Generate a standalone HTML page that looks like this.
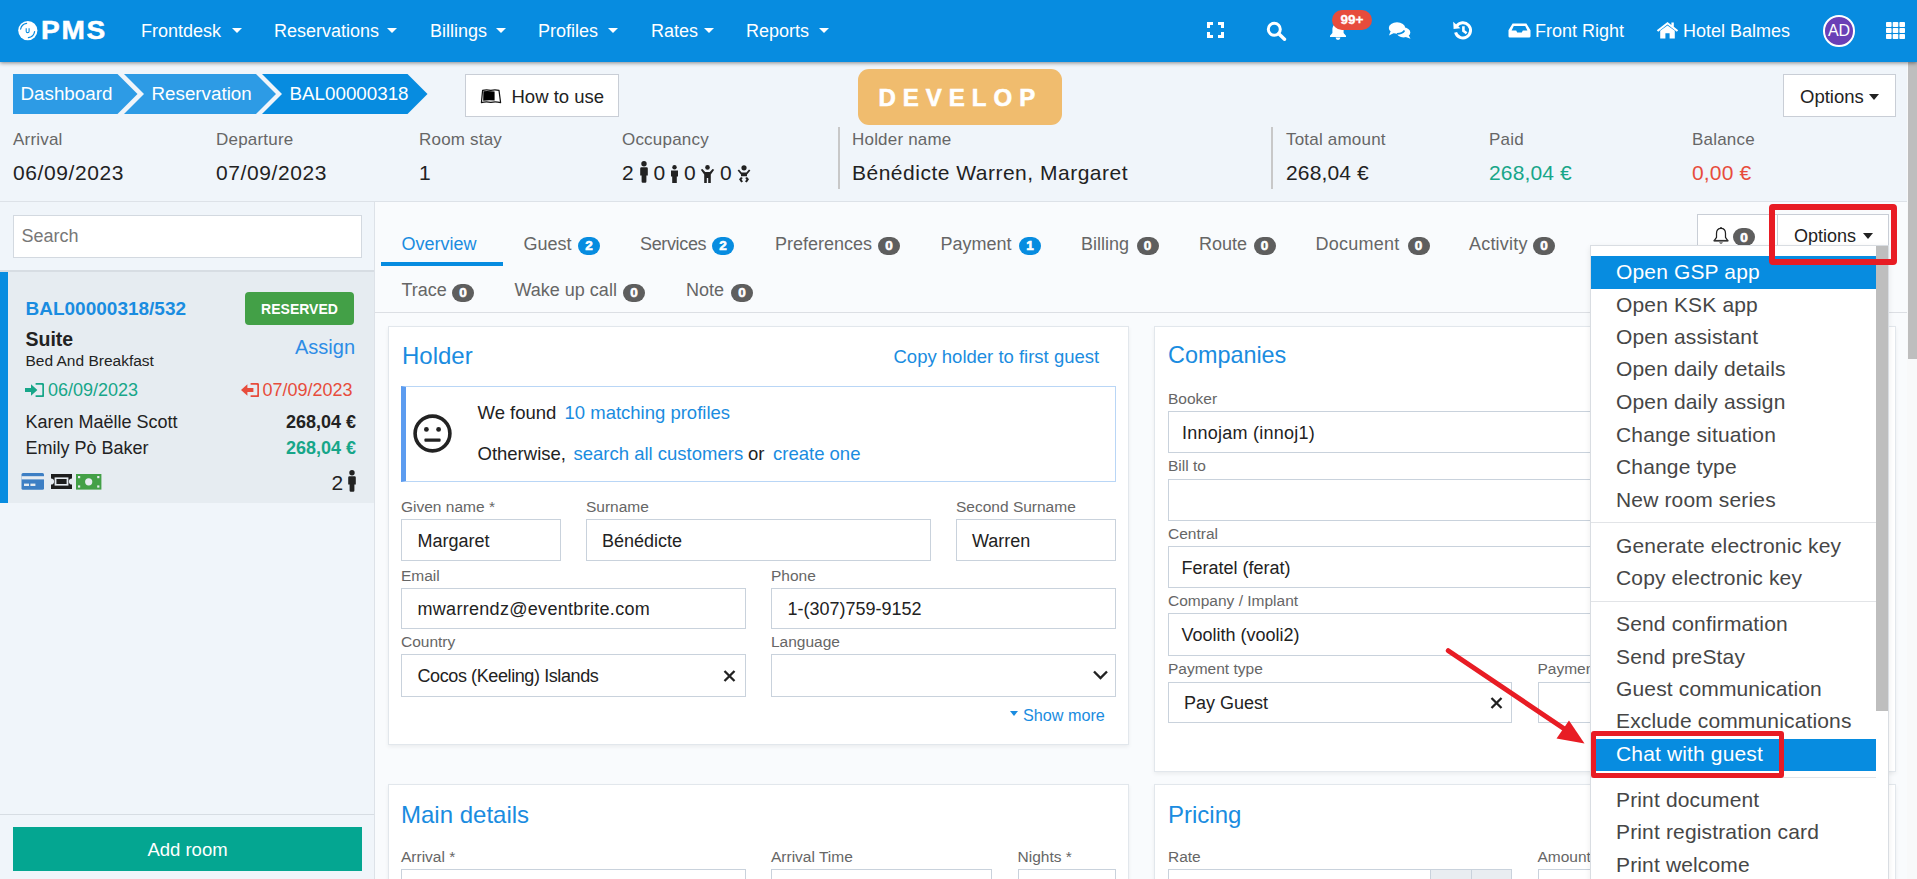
<!DOCTYPE html>
<html><head><meta charset="utf-8">
<style>
*{box-sizing:border-box;margin:0;padding:0}
html,body{width:1917px;height:879px;overflow:hidden}
body{font-family:"Liberation Sans",sans-serif;background:#f0f5fa;color:#222;position:relative}
.a{position:absolute}
.t{position:absolute;line-height:1;white-space:nowrap}
#nav{position:absolute;left:0;top:0;width:1917px;height:62px;background:#078ce0;box-shadow:0 1px 4px rgba(0,0,0,.45);z-index:5}
#nav .t{color:#fff}
.caret{position:absolute;width:0;height:0;border-left:5px solid transparent;border-right:5px solid transparent;border-top:5px solid #fff}
.bdg{position:absolute;height:18px;width:22px;border-radius:9px;background:#5e5e5e;color:#fff;font-size:13.5px;font-weight:bold;-webkit-text-stroke:0.6px #fff;text-align:center;line-height:18px}
.bdg.b{background:#078ce0}
</style></head><body>
<div id="nav">
<svg class="a" style="left:17px;top:20px" width="22" height="22" viewBox="0 0 22 22"><circle cx="10.8" cy="10.6" r="9.6" fill="#fff"/><path d="M3.6 9.2 A7.3 7.3 0 0 1 9.6 3.4" stroke="#078ce0" stroke-width="1.2" fill="none" stroke-linecap="round"/><path d="M17.6 11.6 A7.3 7.3 0 0 1 11.4 17.6" stroke="#078ce0" stroke-width="1.2" fill="none" stroke-linecap="round"/><path d="M9.2 8.2 v3 a1.45 1.45 0 0 0 2.9 0 v-3" stroke="#078ce0" stroke-width="1.1" fill="none"/></svg>
<div class="t" style="left:41px;top:17.2px;font-size:26.5px;font-weight:bold;letter-spacing:1.6px;transform:scaleX(1.06);transform-origin:0 0;-webkit-text-stroke:0.5px #fff">PMS</div>
<div class="t" style="left:141px;top:21.7px;font-size:18px;">Frontdesk</div>
<div class="caret" style="left:232px;top:28px"></div>
<div class="t" style="left:274px;top:21.7px;font-size:18px;">Reservations</div>
<div class="caret" style="left:387px;top:28px"></div>
<div class="t" style="left:430px;top:21.7px;font-size:18px;">Billings</div>
<div class="caret" style="left:496px;top:28px"></div>
<div class="t" style="left:538px;top:21.7px;font-size:18px;">Profiles</div>
<div class="caret" style="left:608px;top:28px"></div>
<div class="t" style="left:651px;top:21.7px;font-size:18px;">Rates</div>
<div class="caret" style="left:704px;top:28px"></div>
<div class="t" style="left:746px;top:21.7px;font-size:18px;">Reports</div>
<div class="caret" style="left:819px;top:28px"></div>

<svg class="a" style="left:1206px;top:21px" width="19" height="18" viewBox="0 0 19 18"><path d="M2.5 7V2.5H7M12 2.5H16.5V7M16.5 11V15.5H12M7 15.5H2.5V11" stroke="#fff" stroke-width="3" fill="none"/></svg>
<svg class="a" style="left:1266px;top:21px" width="21" height="20" viewBox="0 0 21 20"><circle cx="8.3" cy="8.3" r="6" stroke="#fff" stroke-width="3" fill="none"/><path d="M12.8 12.8L18.5 18.3" stroke="#fff" stroke-width="3.4" stroke-linecap="round"/></svg>
<svg class="a" style="left:1328px;top:21.5px" width="20" height="18" viewBox="0 0 20 18"><path d="M10 1.5c-3.5 0-5.6 2.6-5.6 6v3.4L2 13.8V15h16v-1.2l-2.4-2.9V7.5c0-3.4-2.1-6-5.6-6z" fill="#fff"/><path d="M7.6 15.6a2.4 2.4 0 0 0 4.8 0z" fill="#fff"/></svg>
<div class="a" style="left:1332px;top:10px;width:40px;height:20px;border-radius:10px;background:#e74c3c"></div>
<div class="t" style="left:1332px;top:13px;width:40px;text-align:center;font-size:13.5px;font-weight:bold;color:#fff;-webkit-text-stroke:0.3px #fff">99+</div>
<svg class="a" style="left:1388px;top:21px" width="24" height="19" viewBox="0 0 24 19"><ellipse cx="9" cy="7" rx="8.2" ry="5.8" fill="#fff"/><path d="M2.5 10.5 L1 14.5 L6.5 11.8z" fill="#fff"/><ellipse cx="15.5" cy="11.5" rx="6.8" ry="5" fill="#fff"/><path d="M20.5 14 L22.5 17.8 L17 15.8z" fill="#fff"/><path d="M9 12.9 a8.2 5.8 0 0 0 7.5 -3.4" stroke="#078ce0" stroke-width="1.6" fill="none"/></svg>
<svg class="a" style="left:1452px;top:20px" width="22" height="21" viewBox="0 0 22 21"><path d="M4.6 6.2A7.6 7.6 0 1 1 3.6 12.4" stroke="#fff" stroke-width="3" fill="none"/><path d="M1.2 1.8L1.6 9L8.4 8.2z" fill="#fff"/><path d="M11.4 6.2V10.8L14.6 13.2" stroke="#fff" stroke-width="2.6" fill="none"/></svg>
<svg class="a" style="left:1508px;top:23px" width="23" height="15" viewBox="0 0 23 15"><path d="M4.6 0.5H18.4L22.5 7.2V13.2a1.4 1.4 0 0 1-1.4 1.4H1.9A1.4 1.4 0 0 1 0.5 13.2V7.2z" fill="#fff"/><path d="M3.6 7.4L5.8 3H17.2L19.4 7.4H14.8L13.8 9.4H9.2L8.2 7.4z" fill="#078ce0"/></svg>
<div class="t" style="left:1535px;top:21.5px;font-size:18px">Front Right</div>
<svg class="a" style="left:1656px;top:21px" width="23" height="18" viewBox="0 0 23 18"><path d="M11.5 1L0.8 9.2L2.2 10.8L11.5 3.6L20.8 10.8L22.2 9.2L17.8 5.8V1.6H15.4V4L11.5 1z" fill="#fff"/><path d="M4.2 9.8L11.5 4.4L18.8 9.8V17.4H13.6V12.2H9.4V17.4H4.2z" fill="#fff"/></svg>
<div class="t" style="left:1683px;top:21.5px;font-size:18px">Hotel Balmes</div>
<div class="a" style="left:1823px;top:15px;width:32px;height:31.5px;border-radius:50%;background:#6a3fb6;border:2px solid #fff"></div>
<div class="t" style="left:1823px;top:22.6px;width:32px;text-align:center;font-size:16px;color:#fff">AD</div>
<svg class="a" style="left:1886px;top:22px" width="19" height="17" viewBox="0 0 19 17"><g fill="#fff"><rect x="0" y="0" width="5.6" height="5" rx="0.8"/><rect x="6.7" y="0" width="5.6" height="5" rx="0.8"/><rect x="13.4" y="0" width="5.6" height="5" rx="0.8"/><rect x="0" y="6" width="5.6" height="5" rx="0.8"/><rect x="6.7" y="6" width="5.6" height="5" rx="0.8"/><rect x="13.4" y="6" width="5.6" height="5" rx="0.8"/><rect x="0" y="12" width="5.6" height="5" rx="0.8"/><rect x="6.7" y="12" width="5.6" height="5" rx="0.8"/><rect x="13.4" y="12" width="5.6" height="5" rx="0.8"/></g></svg>
</div>
<svg class="a" style="left:0;top:0" width="440" height="130"><polygon points="13,74 117.5,74 137.5,94 117.5,114 13,114" fill="#2d9be5"/><polygon points="124,74 256,74 276,94 256,114 124,114 144,94" fill="#2d9be5"/><polygon points="262,74 407.5,74 427.5,94 407.5,114 262,114 282,94" fill="#078ce0"/></svg>
<div class="t" style="left:20.5px;top:84.9px;font-size:18.8px;color:#fff">Dashboard</div>
<div class="t" style="left:151.5px;top:84.9px;font-size:18.8px;color:#fff">Reservation</div>
<div class="t" style="left:289.5px;top:84.9px;font-size:18.8px;color:#fff">BAL00000318</div>
<div class="a" style="left:465px;top:74px;width:154px;height:43px;background:#fff;border:1px solid #c9ced6"></div>
<svg class="a" style="left:480px;top:89px" width="22" height="15" viewBox="0 0 22 15"><path d="M1.4 13.6L2.6 1.4Q6.5 0.4 10.8 1.4Q15 0.4 19 1.4L20.6 13.6Q15.5 12.4 10.8 13.4Q6 12.4 1.4 13.6z" stroke="#111" stroke-width="1.2" fill="none" stroke-linejoin="round"/><path d="M3.4 2.2Q7 1.6 14.6 2.4V11.6Q8 11 3.2 11.8z" fill="#000"/></svg>
<div class="t" style="left:511.5px;top:87.8px;font-size:18.5px;color:#222">How to use</div>
<div class="a" style="left:858px;top:69px;width:204px;height:56px;border-radius:11px;background:#f0bc6e"></div>
<div class="t" style="left:878.5px;top:86.1px;font-size:24px;color:#fff;font-weight:bold;letter-spacing:7px;-webkit-text-stroke:0.6px #fff">DEVELOP</div>
<div class="a" style="left:1783px;top:74px;width:113px;height:43px;background:#fff;border:1px solid #c9ced6"></div>
<div class="t" style="left:1800px;top:87.8px;font-size:18.5px;color:#222">Options</div>
<div class="a" style="left:1869px;top:94px;width:0;height:0;border-left:5.25px solid transparent;border-right:5.25px solid transparent;border-top:6px solid #222"></div>
<div class="t" style="left:13px;top:130.8px;font-size:17px;color:#666;letter-spacing:0.2px">Arrival</div>
<div class="t" style="left:13px;top:161.8px;font-size:21px;color:#222;letter-spacing:0.6px">06/09/2023</div>
<div class="t" style="left:216px;top:130.8px;font-size:17px;color:#666;letter-spacing:0.2px">Departure</div>
<div class="t" style="left:216px;top:161.8px;font-size:21px;color:#222;letter-spacing:0.6px">07/09/2023</div>
<div class="t" style="left:419px;top:130.8px;font-size:17px;color:#666;letter-spacing:0.2px">Room stay</div>
<div class="t" style="left:419px;top:161.8px;font-size:21px;color:#222;letter-spacing:0.15px">1</div>
<div class="t" style="left:622px;top:130.8px;font-size:17px;color:#666;letter-spacing:0.2px">Occupancy</div>
<div class="t" style="left:852px;top:130.8px;font-size:17px;color:#666;letter-spacing:0.2px">Holder name</div>
<div class="t" style="left:852px;top:161.8px;font-size:21px;color:#222;letter-spacing:0.5px">Bénédicte Warren, Margaret</div>
<div class="t" style="left:1286px;top:130.8px;font-size:17px;color:#666;letter-spacing:0.2px">Total amount</div>
<div class="t" style="left:1286px;top:161.8px;font-size:21px;color:#222;letter-spacing:0.15px">268,04 €</div>
<div class="t" style="left:1489px;top:130.8px;font-size:17px;color:#666;letter-spacing:0.2px">Paid</div>
<div class="t" style="left:1489px;top:161.8px;font-size:21px;color:#17a689;letter-spacing:0.15px">268,04 €</div>
<div class="t" style="left:1692px;top:130.8px;font-size:17px;color:#666;letter-spacing:0.2px">Balance</div>
<div class="t" style="left:1692px;top:161.8px;font-size:21px;color:#e74c3c;letter-spacing:0.15px">0,00 €</div>
<div class="a" style="left:838px;top:127px;width:2px;height:62px;background:#c8c8c8"></div>
<div class="a" style="left:1271px;top:127px;width:2px;height:62px;background:#c8c8c8"></div>
<div class="t" style="left:622px;top:161.8px;font-size:21px;color:#222">2</div>
<div class="t" style="left:653.5px;top:161.8px;font-size:21px;color:#222">0</div>
<div class="t" style="left:684px;top:161.8px;font-size:21px;color:#222">0</div>
<div class="t" style="left:720px;top:161.8px;font-size:21px;color:#222">0</div>
<svg class="a" style="left:638.5px;top:161px" width="10" height="22" viewBox="0 0 10 22"><circle cx="5" cy="2.7" r="2.7" fill="#222"/><path d="M2.4 6.2H7.6Q8.8 6.2 8.8 7.6V14.4H7.4V20.6Q7.4 21.8 6.2 21.8H3.8Q2.6 21.8 2.6 20.6V14.4H1.2V7.6Q1.2 6.2 2.4 6.2z" fill="#222"/></svg>
<svg class="a" style="left:669.5px;top:164.5px" width="9" height="18" viewBox="0 0 9 18"><circle cx="4.5" cy="2.2" r="2.2" fill="#222"/><path d="M1 5.4H8V11.6H6.8V18H2.2V11.6H1z" fill="#222"/></svg>
<svg class="a" style="left:699.5px;top:164.5px" width="15" height="18" viewBox="0 0 15 18"><circle cx="7.5" cy="2.4" r="2.3" fill="#222"/><path d="M0.8 4.8L2.4 4L5.2 7H9.8L12.6 4L14.2 4.8L10.8 9.4V18H8.2V13H6.8V18H4.2V9.4z" fill="#222"/></svg>
<svg class="a" style="left:737px;top:165px" width="14" height="18" viewBox="0 0 14 18"><circle cx="7" cy="2.8" r="2.6" fill="#222"/><path d="M0.6 5.6L2 4.6L4.6 7.4H9.4L12 4.6L13.4 5.6L10 9.6V11.2H4V9.6z" fill="#222"/><path d="M4 12L2 14.2L4.2 17.4L6 16.4L4.6 14.4L5.8 13zM10 12L12 14.2L9.8 17.4L8 16.4L9.4 14.4L8.2 13z" fill="#222"/></svg>
<div class="a" style="left:0px;top:201px;width:1917px;height:1px;background:#dde2e8"></div>
<div class="a" style="left:374px;top:202px;width:1px;height:677px;background:#dde2e8"></div>
<div class="a" style="left:13px;top:215px;width:349px;height:43px;background:#fff;border:1px solid #d3d9e0"></div>
<div class="t" style="left:21.5px;top:227.4px;font-size:18px;color:#777">Search</div>
<div class="a" style="left:0px;top:270px;width:374px;height:2px;background:#d7dde3"></div>
<div class="a" style="left:0px;top:272px;width:374px;height:231px;background:#e6ecf1"></div>
<div class="a" style="left:0px;top:272px;width:7.5px;height:231px;background:#078ce0"></div>
<div class="t" style="left:25.5px;top:298.9px;font-size:19px;color:#1a8ce0;font-weight:bold">BAL00000318/532</div>
<div class="a" style="left:245px;top:292px;width:109px;height:33px;background:#43a047;border-radius:4px"></div>
<div class="t" style="left:245px;top:302.1px;font-size:14px;color:#fff;font-weight:bold;width:109px;text-align:center">RESERVED</div>
<div class="t" style="left:25.5px;top:329.5px;font-size:19.5px;color:#222;font-weight:bold">Suite</div>
<div class="t" style="left:25.5px;top:352.7px;font-size:15.5px;color:#222">Bed And Breakfast</div>
<div class="t" style="left:295px;top:337.1px;font-size:20px;color:#2d8ce6">Assign</div>
<svg class="a" style="left:25px;top:382.5px" width="19" height="14" viewBox="0 0 19 14"><path d="M0 5H6V1.2L12.4 7L6 12.8V9H0z" fill="#17a689"/><path d="M10.6 0.6H16.4A2 2 0 0 1 18.4 2.6V11.4A2 2 0 0 1 16.4 13.4H10.6" stroke="#17a689" stroke-width="2.2" fill="none"/></svg>
<div class="t" style="left:48px;top:380.5px;font-size:18px;color:#17a689">06/09/2023</div>
<svg class="a" style="left:241px;top:382.5px" width="18" height="14" viewBox="0 0 18 14"><path d="M0 7L6.4 1.2V5H12.4V9H6.4V12.8z" fill="#e74c3c"/><path d="M9.6 0.6H15.4A2 2 0 0 1 17.4 2.6V11.4A2 2 0 0 1 15.4 13.4H9.6" stroke="#e74c3c" stroke-width="2.2" fill="none"/></svg>
<div class="t" style="left:262.5px;top:380.5px;font-size:18px;color:#e74c3c">07/09/2023</div>
<div class="t" style="left:25.5px;top:412.5px;font-size:18px;color:#222">Karen Maëlle Scott</div>
<div class="t" style="left:286px;top:412.5px;font-size:18px;color:#222;font-weight:bold">268,04 €</div>
<div class="t" style="left:25.5px;top:438.8px;font-size:18px;color:#222">Emily Pò Baker</div>
<div class="t" style="left:286px;top:438.8px;font-size:18px;color:#17a689;font-weight:bold">268,04 €</div>
<svg class="a" style="left:21px;top:473px" width="23" height="17" viewBox="0 0 23 17"><rect x="0.5" y="0" width="22.5" height="16.8" rx="1.5" fill="#3d7fc4"/><rect x="0.5" y="3.2" width="22.5" height="3.2" fill="#e6ecf1"/><rect x="3" y="10.6" width="5" height="2.4" fill="#e6ecf1"/><rect x="9.4" y="10.6" width="5" height="2.4" fill="#e6ecf1"/></svg>
<svg class="a" style="left:49.5px;top:473px" width="23" height="17" viewBox="0 0 23 17"><path d="M1 1H22V5.4A3 3 0 0 0 22 11.6V16H1V11.6A3 3 0 0 0 1 5.4z" fill="#1d1d1d"/><rect x="4.6" y="4.4" width="13.8" height="8.2" fill="#e6ecf1"/><rect x="6.4" y="6" width="10.2" height="5" fill="#1d1d1d"/></svg>
<svg class="a" style="left:76px;top:474px" width="26" height="16" viewBox="0 0 26 16"><rect x="0" y="0" width="25.4" height="15.6" fill="#43a047"/><circle cx="12.7" cy="7.8" r="3.6" fill="#e6ecf1"/><rect x="2" y="2" width="2.2" height="2.2" fill="#e6ecf1"/><rect x="21.2" y="2" width="2.2" height="2.2" fill="#e6ecf1"/><rect x="2" y="11.4" width="2.2" height="2.2" fill="#e6ecf1"/><rect x="21.2" y="11.4" width="2.2" height="2.2" fill="#e6ecf1"/></svg>
<div class="t" style="left:331.5px;top:471.7px;font-size:21px;color:#222">2</div>
<svg class="a" style="left:346.5px;top:470px" width="10" height="22" viewBox="0 0 10 22"><circle cx="5" cy="2.7" r="2.7" fill="#222"/><path d="M2.4 6.2H7.6Q8.8 6.2 8.8 7.6V14.4H7.4V20.6Q7.4 21.8 6.2 21.8H3.8Q2.6 21.8 2.6 20.6V14.4H1.2V7.6Q1.2 6.2 2.4 6.2z" fill="#222"/></svg>
<div class="a" style="left:0px;top:814px;width:374px;height:1px;background:#d7dde3"></div>
<div class="a" style="left:13px;top:827px;width:349px;height:44px;background:#04a691"></div>
<div class="t" style="left:13px;top:840.5px;font-size:18.5px;color:#fff;width:349px;text-align:center">Add room</div>
<div class="a" style="left:375px;top:202px;width:1532px;height:677px;background:#f9fbfd"></div>
<div class="a" style="left:375px;top:312px;width:1532px;height:1px;background:#dcdfe4"></div>
<div class="t" style="left:401.5px;top:234.7px;font-size:18px;color:#1a8ce0;letter-spacing:0px">Overview</div>
<div class="t" style="left:523.5px;top:234.7px;font-size:18px;color:#666;letter-spacing:0px">Guest</div>
<div class="bdg b" style="left:578px;top:237px">2</div>
<div class="t" style="left:640px;top:234.7px;font-size:18px;color:#666;letter-spacing:-0.35px">Services</div>
<div class="bdg b" style="left:712px;top:237px">2</div>
<div class="t" style="left:775px;top:234.7px;font-size:18px;color:#666;letter-spacing:0px">Preferences</div>
<div class="bdg" style="left:878px;top:237px">0</div>
<div class="t" style="left:940.5px;top:234.7px;font-size:18px;color:#666;letter-spacing:0px">Payment</div>
<div class="bdg b" style="left:1019px;top:237px">1</div>
<div class="t" style="left:1081px;top:234.7px;font-size:18px;color:#666;letter-spacing:0px">Billing</div>
<div class="bdg" style="left:1136.5px;top:237px">0</div>
<div class="t" style="left:1199px;top:234.7px;font-size:18px;color:#666;letter-spacing:0px">Route</div>
<div class="bdg" style="left:1253.5px;top:237px">0</div>
<div class="t" style="left:1315.5px;top:234.7px;font-size:18px;color:#666;letter-spacing:0.25px">Document</div>
<div class="bdg" style="left:1407.5px;top:237px">0</div>
<div class="t" style="left:1469px;top:234.7px;font-size:18px;color:#666;letter-spacing:0.2px">Activity</div>
<div class="bdg" style="left:1533px;top:237px">0</div>
<div class="a" style="left:381px;top:262px;width:122px;height:4px;background:#078ce0"></div>
<div class="t" style="left:401.5px;top:280.8px;font-size:18px;color:#666">Trace</div>
<div class="bdg" style="left:452px;top:283.5px">0</div>
<div class="t" style="left:514.5px;top:280.8px;font-size:18px;color:#666">Wake up call</div>
<div class="bdg" style="left:623px;top:283.5px">0</div>
<div class="t" style="left:686px;top:280.8px;font-size:18px;color:#666">Note</div>
<div class="bdg" style="left:731px;top:283.5px">0</div>
<div class="a" style="left:1697px;top:214px;width:81px;height:32px;background:#fff;border:1px solid #c9ced6;border-bottom:none"></div>
<svg class="a" style="left:1712px;top:226px" width="18" height="19" viewBox="0 0 18 19"><path d="M9 2.4C6.1 2.4 4.5 4.7 4.5 7.6V11.3L2.3 14.6H15.7L13.5 11.3V7.6C13.5 4.7 11.9 2.4 9 2.4z" stroke="#222" stroke-width="1.25" fill="none" stroke-linejoin="round"/><rect x="1.6" y="13.9" width="14.8" height="1.6" fill="#333"/><path d="M6.9 16.6Q9 18.8 11.1 16.6z" fill="#222"/><circle cx="9" cy="1.8" r="0.9" fill="#222"/></svg>
<div class="a" style="left:1733px;top:228px;width:22px;height:18px;border-radius:9px;background:#5e5e5e"></div>
<div class="t" style="left:1733px;top:230.5px;font-size:13.5px;color:#fff;font-weight:bold;width:22px;text-align:center;-webkit-text-stroke:0.7px #fff">0</div>
<div class="a" style="left:1777px;top:214px;width:112px;height:32px;background:#fff;border:1px solid #c9ced6;border-bottom:none"></div>
<div class="t" style="left:1794px;top:226.5px;font-size:18px;color:#222">Options</div>
<div class="a" style="left:1863px;top:233px;width:0;height:0;border-left:5px solid transparent;border-right:5px solid transparent;border-top:6px solid #222"></div>
<div class="a" style="left:388px;top:326px;width:741px;height:419px;background:#fff;border:1px solid #e2e7ec;box-shadow:0 2px 4px rgba(0,0,0,.06)"></div>
<div class="a" style="left:1154px;top:326px;width:742px;height:446px;background:#fff;border:1px solid #e2e7ec;box-shadow:0 2px 4px rgba(0,0,0,.06)"></div>
<div class="a" style="left:388px;top:784px;width:741px;height:120px;background:#fff;border:1px solid #e2e7ec;box-shadow:0 2px 4px rgba(0,0,0,.06)"></div>
<div class="a" style="left:1154px;top:784px;width:742px;height:120px;background:#fff;border:1px solid #e2e7ec;box-shadow:0 2px 4px rgba(0,0,0,.06)"></div>
<div class="t" style="left:402px;top:343.7px;font-size:24px;color:#1a8ce0">Holder</div>
<div class="t" style="left:893.5px;top:348.4px;font-size:18.5px;color:#1a8ce0">Copy holder to first guest</div>
<div class="a" style="left:401px;top:386px;width:715px;height:96px;background:#fff;border:1px solid #b9d6f6;border-left:5px solid #5c9cf0"></div>
<svg class="a" style="left:413px;top:414px" width="39" height="39" viewBox="0 0 39 39"><circle cx="19.5" cy="19.5" r="17.4" stroke="#222" stroke-width="3.6" fill="none"/><circle cx="13.4" cy="15.4" r="2.4" fill="#222"/><circle cx="25.6" cy="15.4" r="2.4" fill="#222"/><rect x="11.4" y="24.4" width="16.2" height="3.4" rx="1" fill="#222"/></svg>
<div class="t" style="left:477.5px;top:404.0px;font-size:18.5px;color:#222">We found</div>
<div class="t" style="left:564.5px;top:404.0px;font-size:18.5px;color:#1a8ce0">10 matching profiles</div>
<div class="t" style="left:477.5px;top:445.0px;font-size:18.5px;color:#222">Otherwise,</div>
<div class="t" style="left:573.5px;top:445.0px;font-size:18.5px;color:#1a8ce0">search all customers</div>
<div class="t" style="left:748px;top:445.0px;font-size:18.5px;color:#222">or</div>
<div class="t" style="left:773px;top:445.0px;font-size:18.5px;color:#1a8ce0">create one</div>
<div class="t" style="left:401px;top:499.2px;font-size:15.5px;color:#666">Given name *</div>
<div class="a" style="left:401px;top:519px;width:160px;height:42px;background:#fff;border:1px solid #c9d2dc"></div>
<div class="t" style="left:417.5px;top:531.7px;font-size:18px;color:#222;letter-spacing:0px">Margaret</div>
<div class="t" style="left:586px;top:499.2px;font-size:15.5px;color:#666">Surname</div>
<div class="a" style="left:586px;top:519px;width:345px;height:42px;background:#fff;border:1px solid #c9d2dc"></div>
<div class="t" style="left:602px;top:531.7px;font-size:18px;color:#222;letter-spacing:0px">Bénédicte</div>
<div class="t" style="left:956px;top:499.2px;font-size:15.5px;color:#666">Second Surname</div>
<div class="a" style="left:956px;top:519px;width:160px;height:42px;background:#fff;border:1px solid #c9d2dc"></div>
<div class="t" style="left:972px;top:531.7px;font-size:18px;color:#222;letter-spacing:0px">Warren</div>
<div class="t" style="left:401px;top:567.9px;font-size:15.5px;color:#666">Email</div>
<div class="a" style="left:401px;top:587.5px;width:345px;height:41.5px;background:#fff;border:1px solid #c9d2dc"></div>
<div class="t" style="left:417.5px;top:600.2px;font-size:18px;color:#222;letter-spacing:0.3px">mwarrendz@eventbrite.com</div>
<div class="t" style="left:771px;top:567.9px;font-size:15.5px;color:#666">Phone</div>
<div class="a" style="left:771px;top:587.5px;width:345px;height:41.5px;background:#fff;border:1px solid #c9d2dc"></div>
<div class="t" style="left:787.5px;top:600.2px;font-size:18px;color:#222;letter-spacing:0px">1-(307)759-9152</div>
<div class="t" style="left:401px;top:634.1px;font-size:15.5px;color:#666">Country</div>
<div class="a" style="left:401px;top:654px;width:345px;height:42.5px;background:#fff;border:1px solid #c9d2dc"></div>
<div class="t" style="left:417.5px;top:666.7px;font-size:18px;color:#222;letter-spacing:-0.4px">Cocos (Keeling) Islands</div>
<div class="t" style="left:771px;top:634.1px;font-size:15.5px;color:#666">Language</div>
<div class="a" style="left:771px;top:654px;width:345px;height:42.5px;background:#fff;border:1px solid #c9d2dc"></div>
<svg class="a" style="left:722px;top:668.5px" width="15" height="14" viewBox="0 0 15 14"><path d="M2.5 2L12.5 12M12.5 2L2.5 12" stroke="#222" stroke-width="2.3"/></svg>
<svg class="a" style="left:1092px;top:669px" width="17" height="12" viewBox="0 0 17 12"><path d="M2 2.5L8.5 9L15 2.5" stroke="#222" stroke-width="2.4" fill="none"/></svg>
<div class="a" style="left:1010px;top:711px;width:0;height:0;border-left:4.5px solid transparent;border-right:4.5px solid transparent;border-top:5px solid #1a8ce0"></div>
<div class="t" style="left:1023px;top:706.8px;font-size:16.2px;color:#1a8ce0">Show more</div>
<div class="t" style="left:401px;top:803.3px;font-size:24px;color:#1a8ce0">Main details</div>
<div class="t" style="left:401px;top:849.3px;font-size:15.5px;color:#666">Arrival *</div>
<div class="a" style="left:401px;top:869px;width:345px;height:42px;background:#fff;border:1px solid #c9d2dc"></div>
<div class="t" style="left:771px;top:849.3px;font-size:15.5px;color:#666">Arrival Time</div>
<div class="a" style="left:771px;top:869px;width:221px;height:42px;background:#fff;border:1px solid #c9d2dc"></div>
<div class="t" style="left:1017.5px;top:849.3px;font-size:15.5px;color:#666">Nights *</div>
<div class="a" style="left:1017.5px;top:869px;width:98.5px;height:42px;background:#fff;border:1px solid #c9d2dc"></div>
<div class="t" style="left:1168px;top:344.1px;font-size:23.4px;color:#1a8ce0">Companies</div>
<div class="t" style="left:1168px;top:390.9px;font-size:15.5px;color:#666">Booker</div>
<div class="a" style="left:1168px;top:411px;width:714px;height:42px;background:#fff;border:1px solid #c9d2dc"></div>
<div class="t" style="left:1182px;top:423.6px;font-size:18px;color:#222;letter-spacing:0.25px">Innojam (innoj1)</div>
<div class="t" style="left:1168px;top:458.1px;font-size:15.5px;color:#666">Bill to</div>
<div class="a" style="left:1168px;top:478.5px;width:714px;height:42px;background:#fff;border:1px solid #c9d2dc"></div>
<div class="t" style="left:1168px;top:525.9px;font-size:15.5px;color:#666">Central</div>
<div class="a" style="left:1168px;top:546px;width:714px;height:42px;background:#fff;border:1px solid #c9d2dc"></div>
<div class="t" style="left:1181.5px;top:559.1px;font-size:18px;color:#222;letter-spacing:0px">Feratel (ferat)</div>
<div class="t" style="left:1168px;top:593.2px;font-size:15.5px;color:#666">Company / Implant</div>
<div class="a" style="left:1168px;top:613px;width:714px;height:42.5px;background:#fff;border:1px solid #c9d2dc"></div>
<div class="t" style="left:1181.5px;top:626.1px;font-size:18px;color:#222;letter-spacing:0px">Voolith (vooli2)</div>
<div class="t" style="left:1168px;top:661.2px;font-size:15.5px;color:#666">Payment type</div>
<div class="a" style="left:1168px;top:681.5px;width:344px;height:41.5px;background:#fff;border:1px solid #c9d2dc"></div>
<div class="t" style="left:1184px;top:693.7px;font-size:18px;color:#222;letter-spacing:0px">Pay Guest</div>
<div class="t" style="left:1537.5px;top:661.2px;font-size:15.5px;color:#666">Payment method</div>
<div class="a" style="left:1537.5px;top:681.5px;width:344px;height:41.5px;background:#fff;border:1px solid #c9d2dc"></div>
<svg class="a" style="left:1489px;top:695.5px" width="15" height="14" viewBox="0 0 15 14"><path d="M2.5 2L12.5 12M12.5 2L2.5 12" stroke="#222" stroke-width="2.3"/></svg>
<div class="t" style="left:1168px;top:803.3px;font-size:24px;color:#1a8ce0">Pricing</div>
<div class="t" style="left:1168px;top:848.9px;font-size:15.5px;color:#666">Rate</div>
<div class="a" style="left:1168px;top:868.5px;width:344px;height:42px;background:#fff;border:1px solid #c9d2dc"></div>
<div class="a" style="left:1430px;top:869.5px;width:41px;height:40px;background:#e9edf1;border-left:1px solid #c9d2dc"></div>
<div class="a" style="left:1470.5px;top:869.5px;width:40.5px;height:40px;background:#e9edf1;border-left:1px solid #c9d2dc"></div>
<div class="t" style="left:1537.5px;top:848.9px;font-size:15.5px;color:#666">Amount</div>
<div class="a" style="left:1537.5px;top:868.5px;width:344px;height:42px;background:#fff;border:1px solid #c9d2dc"></div>
<div class="a" style="left:1907px;top:62px;width:10px;height:817px;background:#f8f9fa"></div>
<div class="a" style="left:1908px;top:62px;width:9px;height:297px;background:#bebebe"></div>
<div class="a" style="left:1590px;top:245px;width:299px;height:640px;background:#fff;border:1px solid #d9dde2;box-shadow:0 2px 6px rgba(0,0,0,.08)"></div>
<div class="a" style="left:1876px;top:246px;width:12px;height:465px;background:#bebebe"></div>
<div class="a" style="left:1591px;top:256px;width:285px;height:33px;background:#078ce0"></div>
<div class="a" style="left:1591px;top:738.5px;width:285px;height:32px;background:#078ce0"></div>
<div class="t" style="left:1616px;top:261.0px;font-size:21px;color:#fff;letter-spacing:0.15px">Open GSP app</div>
<div class="t" style="left:1616px;top:293.7px;font-size:21px;color:#464646;letter-spacing:0.15px">Open KSK app</div>
<div class="t" style="left:1616px;top:325.9px;font-size:21px;color:#464646;letter-spacing:0.15px">Open assistant</div>
<div class="t" style="left:1616px;top:358.3px;font-size:21px;color:#464646;letter-spacing:0.15px">Open daily details</div>
<div class="t" style="left:1616px;top:390.7px;font-size:21px;color:#464646;letter-spacing:0.15px">Open daily assign</div>
<div class="t" style="left:1616px;top:424.2px;font-size:21px;color:#464646;letter-spacing:0.15px">Change situation</div>
<div class="t" style="left:1616px;top:455.5px;font-size:21px;color:#464646;letter-spacing:0.15px">Change type</div>
<div class="t" style="left:1616px;top:488.7px;font-size:21px;color:#464646;letter-spacing:0.15px">New room series</div>
<div class="t" style="left:1616px;top:535.0px;font-size:21px;color:#464646;letter-spacing:0.15px">Generate electronic key</div>
<div class="t" style="left:1616px;top:566.9px;font-size:21px;color:#464646;letter-spacing:0.15px">Copy electronic key</div>
<div class="t" style="left:1616px;top:612.9px;font-size:21px;color:#464646;letter-spacing:0.15px">Send confirmation</div>
<div class="t" style="left:1616px;top:645.5px;font-size:21px;color:#464646;letter-spacing:0.15px">Send preStay</div>
<div class="t" style="left:1616px;top:677.9px;font-size:21px;color:#464646;letter-spacing:0.15px">Guest communication</div>
<div class="t" style="left:1616px;top:710.4px;font-size:21px;color:#464646;letter-spacing:0.15px">Exclude communications</div>
<div class="t" style="left:1616px;top:742.6px;font-size:21px;color:#fff;letter-spacing:0.15px">Chat with guest</div>
<div class="t" style="left:1616px;top:788.6px;font-size:21px;color:#464646;letter-spacing:0.15px">Print document</div>
<div class="t" style="left:1616px;top:821.2px;font-size:21px;color:#464646;letter-spacing:0.15px">Print registration card</div>
<div class="t" style="left:1616px;top:853.5px;font-size:21px;color:#464646;letter-spacing:0.15px">Print welcome</div>
<div class="a" style="left:1591px;top:522px;width:285px;height:1px;background:#e2e4e7"></div>
<div class="a" style="left:1591px;top:601px;width:285px;height:1px;background:#e2e4e7"></div>
<div class="a" style="left:1591px;top:777px;width:285px;height:1px;background:#e2e4e7"></div>
<div class="a" style="left:1768.5px;top:203.5px;width:128.5px;height:61px;border:6.5px solid #e81c24;border-radius:4px"></div>
<div class="a" style="left:1590.5px;top:731px;width:193px;height:47px;border:5px solid #e81c24;border-radius:3px"></div>
<svg class="a" style="left:0;top:0" width="1917" height="879"><path d="M1448.3 650.7L1566 730" stroke="#e81c24" stroke-width="5" stroke-linecap="round"/><polygon points="1584.5,743.5 1569,720.5 1556.5,738.5" fill="#e81c24"/></svg>
</body></html>
